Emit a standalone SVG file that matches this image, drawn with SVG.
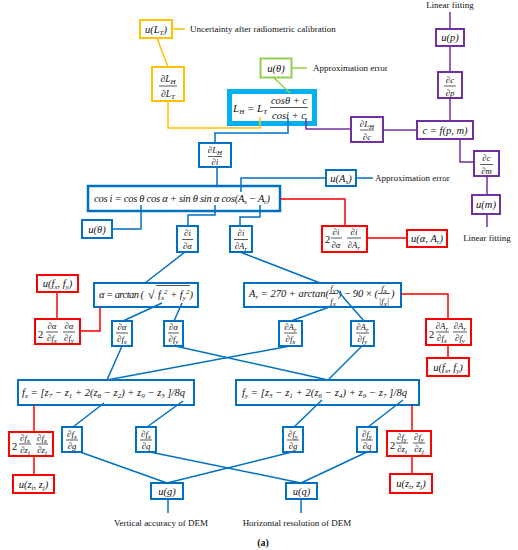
<svg xmlns="http://www.w3.org/2000/svg" width="518" height="550" viewBox="0 0 518 550">
<style>
.bx{fill:#fff;stroke-width:2}
.Y{stroke:#FFC000}.G{stroke:#92D050}.C{stroke:#00B0F0}.P{stroke:#7030A0}.B{stroke:#0070C0}.R{stroke:#FF0000}
.ln{fill:none;stroke-width:1.5}
text{font-family:"Liberation Serif","DejaVu Serif",serif;fill:#111}
.m{font-style:italic;font-size:10.5px}
.s{font-size:7px}
.f{font-size:8.8px;text-anchor:middle;font-style:italic}
.c{text-anchor:middle}
.n{font-style:normal}
.lb{font-size:9px}
.fl{stroke:#111;stroke-width:0.7}
</style>
<rect width="518" height="550" fill="#fff"/>

<g id="n_uLT"><rect x="140" y="20" width="32" height="18" class="bx Y"/><text x="156" y="33" class="m c">u(L<tspan class="s" dy="2">T</tspan><tspan dy="-2">)</tspan></text></g>
<g id="n_dLHdLT"><rect x="152" y="67" width="32" height="34" class="bx Y"/><text x="168" y="82" class="f" style="font-size:9.5px">∂L<tspan class="s" dy="1.5">H</tspan></text><line x1="159" y1="86" x2="177" y2="86" class="fl"/><text x="168" y="97" class="f" style="font-size:9.5px">∂L<tspan class="s" dy="1.5">T</tspan></text></g>
<g id="n_LH"><rect x="229.5" y="91.5" width="85" height="32" class="bx C" style="stroke-width:5"/><text x="233" y="112" class="m" style="font-size:11px">L<tspan class="s" dy="2">H</tspan><tspan dy="-2"> = L</tspan><tspan class="s" dy="2">T</tspan></text><text x="289" y="104" class="f" style="font-size:10.5px">cosθ + c</text><line x1="270" y1="107.5" x2="308" y2="107.5" class="fl"/><text x="289" y="118.5" class="f" style="font-size:10.5px">cosi + c</text></g>
<g id="n_uth"><rect x="260.5" y="58.5" width="31" height="19" class="bx G"/><text x="276" y="72" class="m c">u(θ)</text></g>
<g id="n_dLHdc"><rect x="351" y="117" width="32" height="25" class="bx P"/><text x="367" y="127" class="f">∂L<tspan class="s" dy="1.5">H</tspan></text><line x1="360" y1="130" x2="374" y2="130" class="fl"/><text x="367" y="140" class="f">∂c</text></g>
<g id="n_c"><rect x="417" y="121" width="56" height="18" class="bx P"/><text x="445" y="134" class="m c">c = f(p, m)</text></g>
<g id="n_up"><rect x="436" y="29" width="28" height="17" class="bx P"/><text x="450" y="41" class="m c">u(p)</text></g>
<g id="n_dcdp"><rect x="438" y="72" width="24" height="26" class="bx P"/><text x="450" y="83" class="f">∂c</text><line x1="444" y1="86" x2="456" y2="86" class="fl"/><text x="450" y="96" class="f">∂p</text></g>
<g id="n_dcdm"><rect x="474" y="151" width="25" height="25" class="bx P"/><text x="486.5" y="161" class="f">∂c</text><line x1="480" y1="164.5" x2="493" y2="164.5" class="fl"/><text x="486.5" y="174" class="f">∂m</text></g>
<g id="n_um"><rect x="472" y="195" width="28" height="19" class="bx P"/><text x="486" y="208" class="m c">u(m)</text></g>
<g id="n_dLHdi"><rect x="199" y="143" width="32" height="24" class="bx B"/><text x="215" y="153" class="f">∂L<tspan class="s" dy="1.5">H</tspan></text><line x1="208" y1="156.5" x2="222" y2="156.5" class="fl"/><text x="215" y="165" class="f">∂i</text></g>
<g id="n_cosi"><rect x="88" y="186" width="192" height="25" class="bx B" style="stroke-width:2.5"/><text x="94" y="202" class="m" textLength="176">cos i = cos θ cos α + sin θ sin α cos(A<tspan class="s" dy="2">s</tspan><tspan dy="-2"> − A</tspan><tspan class="s" dy="2">r</tspan><tspan dy="-2">)</tspan></text></g>
<g id="n_uAs"><rect x="326" y="170" width="30" height="16" class="bx B"/><text x="341" y="182" class="m c">u(A<tspan class="s" dy="2">s</tspan><tspan dy="-2">)</tspan></text></g>
<g id="n_uth2"><rect x="82" y="220" width="30" height="18" class="bx B"/><text x="97" y="233" class="m c">u(θ)</text></g>
<g id="n_dida"><rect x="177" y="226" width="21" height="26" class="bx B"/><text x="187.5" y="236" class="f">∂i</text><line x1="182" y1="239.5" x2="193" y2="239.5" class="fl"/><text x="187.5" y="249" class="f">∂α</text></g>
<g id="n_didAr"><rect x="230" y="226" width="22" height="26" class="bx B"/><text x="241" y="236" class="f">∂i</text><line x1="234" y1="239.5" x2="248" y2="239.5" class="fl"/><text x="241" y="249" class="f">∂A<tspan class="s" dy="1.5">r</tspan></text></g>
<g id="n_2didi"><rect x="322" y="226" width="45" height="26" class="bx R"/><text x="325" y="243" class="m n">2</text><text x="336" y="235" class="f">∂i</text><line x1="331" y1="238" x2="342" y2="238" class="fl"/><text x="336" y="248" class="f">∂α</text><text x="354" y="235" class="f">∂i</text><line x1="347" y1="238" x2="361" y2="238" class="fl"/><text x="354" y="248" class="f">∂A<tspan class="s" dy="1.5">r</tspan></text></g>
<g id="n_uaAr"><rect x="407" y="230" width="40" height="17" class="bx R"/><text x="427" y="242" class="m c">u(α, A<tspan class="s" dy="2">r</tspan><tspan dy="-2">)</tspan></text></g>
<g id="n_alpha"><rect x="94" y="283" width="104" height="24" class="bx B"/><text x="99" y="298" class="m" textLength="45">α = arctan (</text><text x="148" y="299" class="m n" style="font-size:12px">√</text><line x1="156" y1="285.5" x2="190" y2="285.5" class="fl"/><text x="158" y="298" class="m">f<tspan class="s" dy="2">x</tspan><tspan class="s" dy="-6">2</tspan><tspan dy="4"> + f</tspan><tspan class="s" dy="2">y</tspan><tspan class="s" dy="-6">2</tspan><tspan dy="4">)</tspan></text></g>
<g id="n_Ar"><rect x="244" y="283" width="157" height="24" class="bx B"/><text x="249" y="297" class="m" textLength="80">A<tspan class="s" dy="2">r</tspan><tspan dy="-2"> = 270 + arctan(</tspan></text><text x="333" y="291" class="f">f<tspan class="s" dy="1.5">y</tspan></text><line x1="329" y1="293.5" x2="338" y2="293.5" class="fl"/><text x="333" y="304" class="f">f<tspan class="s" dy="1.5">x</tspan></text><text x="338" y="297" class="m" textLength="40">) − 90 × (</text><text x="384" y="291" class="f">f<tspan class="s" dy="1.5">x</tspan></text><line x1="378" y1="293.5" x2="390" y2="293.5" class="fl"/><text x="384" y="304" class="f">|f<tspan class="s" dy="1.5">x</tspan><tspan dy="-1.5">|</tspan></text><text x="391" y="297" class="m">)</text></g>
<g id="n_ufL"><rect x="37" y="275" width="41" height="17" class="bx R"/><text x="57.5" y="287" class="m c">u(f<tspan class="s" dy="2">x</tspan><tspan dy="-2">, f</tspan><tspan class="s" dy="2">y</tspan><tspan dy="-2">)</tspan></text></g>
<g id="n_2dadf"><rect x="35" y="319" width="45" height="25" class="bx R"/><text x="38" y="338" class="m n">2</text><text x="52" y="329" class="f">∂α</text><line x1="46" y1="332" x2="58" y2="332" class="fl"/><text x="52" y="341" class="f">∂f<tspan class="s" dy="1.5">x</tspan></text><text x="69" y="329" class="f">∂α</text><line x1="63" y1="332" x2="75" y2="332" class="fl"/><text x="69" y="341" class="f">∂f<tspan class="s" dy="1.5">y</tspan></text></g>
<g id="n_dadfx"><rect x="112" y="321" width="20" height="25" class="bx B"/><text x="122" y="330" class="f">∂α</text><line x1="116" y1="333" x2="128" y2="333" class="fl"/><text x="122" y="342" class="f">∂f<tspan class="s" dy="1.5">x</tspan></text></g>
<g id="n_dadfy"><rect x="164" y="321" width="19" height="25" class="bx B"/><text x="173.5" y="330" class="f">∂α</text><line x1="168" y1="333" x2="179" y2="333" class="fl"/><text x="173.5" y="342" class="f">∂f<tspan class="s" dy="1.5">y</tspan></text></g>
<g id="n_dArdfx"><rect x="279" y="321" width="23" height="25" class="bx B"/><text x="290.5" y="330" class="f">∂A<tspan class="s" dy="1.5">r</tspan></text><line x1="284" y1="333" x2="297" y2="333" class="fl"/><text x="290.5" y="342" class="f">∂f<tspan class="s" dy="1.5">x</tspan></text></g>
<g id="n_dArdfy"><rect x="351" y="321" width="23" height="25" class="bx B"/><text x="362.5" y="330" class="f">∂A<tspan class="s" dy="1.5">r</tspan></text><line x1="356" y1="333" x2="369" y2="333" class="fl"/><text x="362.5" y="342" class="f">∂f<tspan class="s" dy="1.5">y</tspan></text></g>
<g id="n_2dArdf"><rect x="426" y="319" width="45" height="26" class="bx R"/><text x="429" y="338" class="m n">2</text><text x="442" y="329" class="f">∂A<tspan class="s" dy="1.5">r</tspan></text><line x1="436" y1="332" x2="449" y2="332" class="fl"/><text x="442" y="341" class="f">∂f<tspan class="s" dy="1.5">x</tspan></text><text x="460" y="329" class="f">∂A<tspan class="s" dy="1.5">r</tspan></text><line x1="453" y1="332" x2="467" y2="332" class="fl"/><text x="460" y="341" class="f">∂f<tspan class="s" dy="1.5">y</tspan></text></g>
<g id="n_ufR"><rect x="427" y="358" width="42" height="18" class="bx R"/><text x="448" y="371" class="m c">u(f<tspan class="s" dy="2">x</tspan><tspan dy="-2">, f</tspan><tspan class="s" dy="2">y</tspan><tspan dy="-2">)</tspan></text></g>
<g id="n_fx"><rect x="18" y="380" width="176" height="25" class="bx B"/><text x="22" y="396" class="m" textLength="163">f<tspan class="s" dy="2">x</tspan><tspan dy="-2"> = [z</tspan><tspan class="s" dy="2">7</tspan><tspan dy="-2"> − z</tspan><tspan class="s" dy="2">1</tspan><tspan dy="-2"> + 2(z</tspan><tspan class="s" dy="2">8</tspan><tspan dy="-2"> − z</tspan><tspan class="s" dy="2">2</tspan><tspan dy="-2">) + z</tspan><tspan class="s" dy="2">9</tspan><tspan dy="-2"> − z</tspan><tspan class="s" dy="2">3</tspan><tspan dy="-2"> ]/8q</tspan></text></g>
<g id="n_fy"><rect x="236" y="380" width="183" height="25" class="bx B"/><text x="242" y="396" class="m" textLength="165">f<tspan class="s" dy="2">y</tspan><tspan dy="-2"> = [z</tspan><tspan class="s" dy="2">3</tspan><tspan dy="-2"> − z</tspan><tspan class="s" dy="2">1</tspan><tspan dy="-2"> + 2(z</tspan><tspan class="s" dy="2">6</tspan><tspan dy="-2"> − z</tspan><tspan class="s" dy="2">4</tspan><tspan dy="-2">) + z</tspan><tspan class="s" dy="2">9</tspan><tspan dy="-2"> − z</tspan><tspan class="s" dy="2">7</tspan><tspan dy="-2"> ]/8q</tspan></text></g>
<g id="n_dfxdg"><rect x="62" y="427" width="20" height="25" class="bx B"/><text x="72" y="437" class="f">∂f<tspan class="s" dy="1.5">x</tspan></text><line x1="66" y1="440" x2="78" y2="440" class="fl"/><text x="72" y="449" class="f">∂g</text></g>
<g id="n_dfxdq"><rect x="136" y="427" width="20" height="25" class="bx B"/><text x="146" y="437" class="f">∂f<tspan class="s" dy="1.5">x</tspan></text><line x1="140" y1="440" x2="152" y2="440" class="fl"/><text x="146" y="449" class="f">∂q</text></g>
<g id="n_dfydg"><rect x="283" y="427" width="20" height="25" class="bx B"/><text x="293" y="437" class="f">∂f<tspan class="s" dy="1.5">y</tspan></text><line x1="287" y1="440" x2="299" y2="440" class="fl"/><text x="293" y="449" class="f">∂g</text></g>
<g id="n_dfydq"><rect x="357" y="427" width="20" height="25" class="bx B"/><text x="367" y="437" class="f">∂f<tspan class="s" dy="1.5">y</tspan></text><line x1="361" y1="440" x2="373" y2="440" class="fl"/><text x="367" y="449" class="f">∂q</text></g>
<g id="n_2dfxdz"><rect x="9" y="432" width="44" height="24" class="bx R"/><text x="12" y="450" class="m n">2</text><text x="25" y="441" class="f">∂f<tspan class="s" dy="1.5">x</tspan></text><line x1="19" y1="444" x2="31" y2="444" class="fl"/><text x="25" y="453" class="f">∂z<tspan class="s" dy="1.5">i</tspan></text><text x="42" y="441" class="f">∂f<tspan class="s" dy="1.5">x</tspan></text><line x1="36" y1="444" x2="48" y2="444" class="fl"/><text x="42" y="453" class="f">∂z<tspan class="s" dy="1.5">j</tspan></text></g>
<g id="n_uzL"><rect x="13" y="475" width="41" height="18" class="bx R"/><text x="33.5" y="488" class="m c">u(z<tspan class="s" dy="2">i</tspan><tspan dy="-2">, z</tspan><tspan class="s" dy="2">j</tspan><tspan dy="-2">)</tspan></text></g>
<g id="n_2dfydz"><rect x="387" y="431" width="44" height="25" class="bx R"/><text x="390" y="449" class="m n">2</text><text x="402" y="440" class="f">∂f<tspan class="s" dy="1.5">y</tspan></text><line x1="396" y1="443" x2="408" y2="443" class="fl"/><text x="402" y="452" class="f">∂z<tspan class="s" dy="1.5">i</tspan></text><text x="419" y="440" class="f">∂f<tspan class="s" dy="1.5">y</tspan></text><line x1="413" y1="443" x2="425" y2="443" class="fl"/><text x="419" y="452" class="f">∂z<tspan class="s" dy="1.5">j</tspan></text></g>
<g id="n_uzR"><rect x="390" y="474" width="42" height="19" class="bx R"/><text x="411" y="487" class="m c">u(z<tspan class="s" dy="2">i</tspan><tspan dy="-2">, z</tspan><tspan class="s" dy="2">j</tspan><tspan dy="-2">)</tspan></text></g>
<g id="n_ug"><rect x="151" y="483" width="32" height="16" class="bx B"/><text x="167" y="495" class="m c">u(g)</text></g>
<g id="n_uq"><rect x="286" y="483" width="31" height="16" class="bx B"/><text x="301.5" y="495" class="m c">u(q)</text></g>

<g id="labels">
<text x="190" y="32" class="lb">Uncertainty after radiometric calibration</text>
<text x="313" y="71" class="lb">Approximation error</text>
<text x="450" y="8" class="lb c">Linear fitting</text>
<text x="487" y="241" class="lb c">Linear fitting</text>
<text x="375" y="181" class="lb">Approximation error</text>
<text x="161" y="526" class="lb c">Vertical accuracy of DEM</text>
<text x="297" y="526" class="lb c">Horizontal resolution of DEM</text>
<text x="263" y="546" class="c" style="font-size:10px;font-weight:bold">(a)</text>
</g>

<g id="connectors" class="ln">
<g class="Y">
<path d="M172 29H185"/>
<path d="M157 38L168 67"/>
<path d="M168 101V128H260V117"/>
</g>
<g class="G">
<path d="M291 68H307"/>
<path d="M273 77L290 93"/>
</g>
<g class="P">
<path d="M306 118V129H351"/>
<path d="M383 130H417"/>
<path d="M450 12V29"/>
<path d="M450 46V72"/>
<path d="M450 98V121"/>
<path d="M460 139V162H474"/>
<path d="M487 176V195"/>
<path d="M487 214V227"/>
</g>
<g class="B">
<path d="M288 118V133H215V143"/>
<path d="M217 167V186"/>
<path d="M241 192V178H326"/>
<path d="M356 178H373"/>
<path d="M141 205V229H112"/>
<path d="M215 205V215H188V226"/>
<path d="M260 205V217H240V226"/>
<path d="M185 252L145 283"/>
<path d="M240 252L320 283"/>
<path d="M123 321L162 303"/>
<path d="M174 321L182 303"/>
<path d="M291 321L332 306"/>
<path d="M364 321L337 290"/>
<path d="M122 346L107 380"/>
<path d="M290 346L107 380"/>
<path d="M175 346L328 380"/>
<path d="M362 346L328 380"/>
<path d="M73 427L104 403"/>
<path d="M147 427L183 401"/>
<path d="M294 427L322 400"/>
<path d="M368 427L403 400"/>
<path d="M80 452L167 483"/>
<path d="M292 452L167 483"/>
<path d="M150 452L301 483"/>
<path d="M367 452L301 483"/>
<path d="M168 499V513"/>
<path d="M301 499V513"/>
</g>
<g class="R">
<path d="M280 199H345V226"/>
<path d="M367 238H407"/>
<path d="M57 292V319"/>
<path d="M100 307V331H80"/>
<path d="M401 294H448V319"/>
<path d="M448 345V358"/>
<path d="M34 405V432"/>
<path d="M34 456V475"/>
<path d="M412 405V431"/>
<path d="M412 456V474"/>
</g>
</g>
</svg>
